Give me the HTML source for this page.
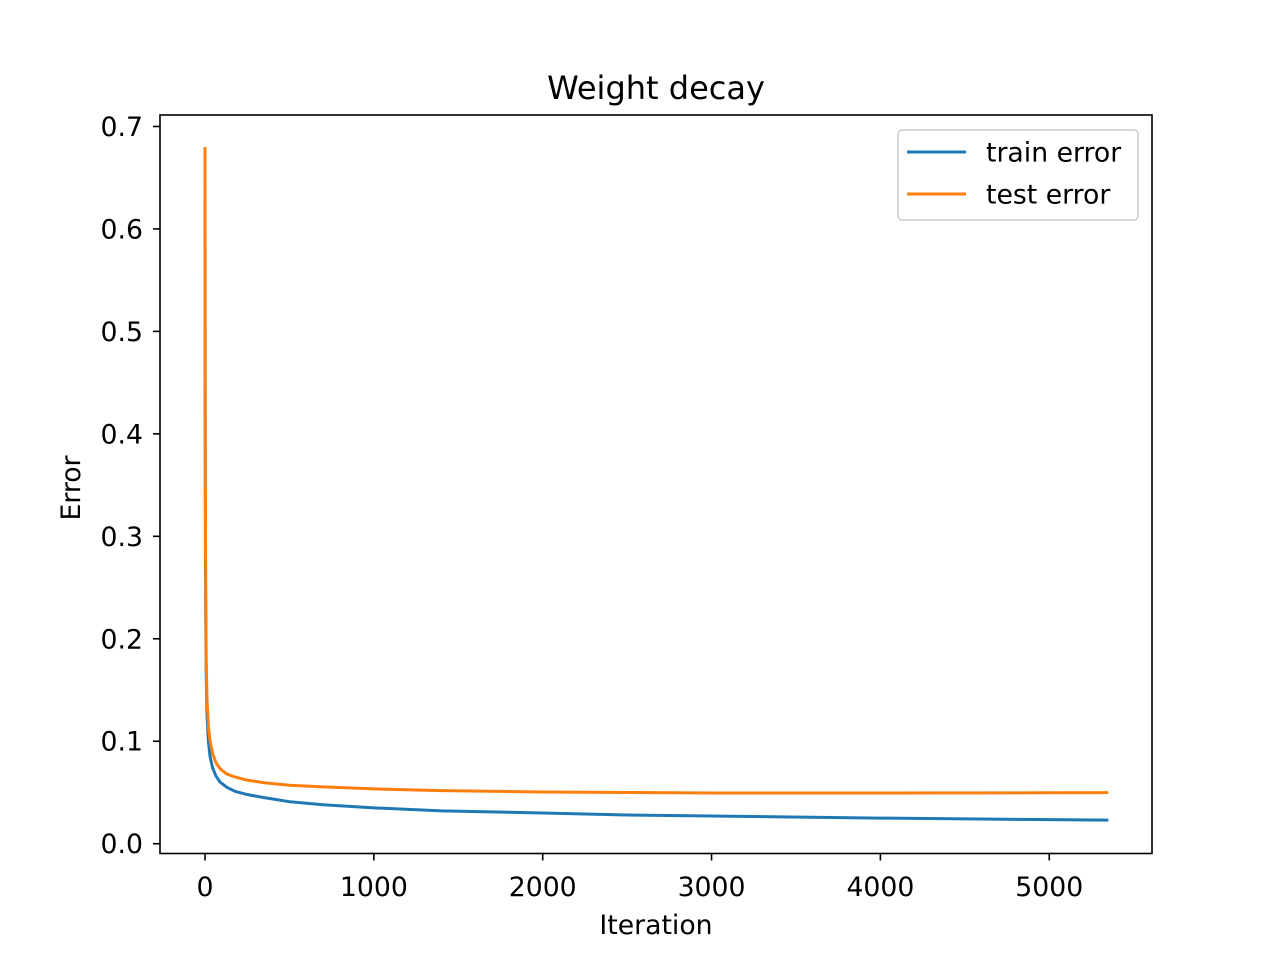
<!DOCTYPE html>
<html><head><meta charset="utf-8"><style>
body{margin:0;background:#fff}
svg text{font-family:"DejaVu Sans","Liberation Sans",sans-serif;fill:#000}
</style></head><body>
<svg id="chart" width="1280" height="960" xmlns="http://www.w3.org/2000/svg">
<rect width="1280" height="960" fill="#fff"/>
<text x="656" y="99" style="font-size:32px" text-anchor="middle">Weight decay</text>
<g id="plot"></g>
<rect x="160" y="115" width="992" height="738.5" fill="none" stroke="#000" stroke-width="1.6"/>
<text x="656" y="934" style="font-size:26.7px" text-anchor="middle">Iteration</text>
<text transform="translate(80,488) rotate(-90)" style="font-size:26.7px" text-anchor="middle">Error</text>
<g>
<rect x="898" y="130" width="240" height="90" rx="4" fill="#fff" stroke="#ccc" stroke-width="1.5"/>
<line x1="907" y1="152" x2="966" y2="152" stroke="#1f77b4" stroke-width="3"/>
<text x="986" y="161.5" style="font-size:26.7px">train error</text>
<line x1="907" y1="194" x2="966" y2="194" stroke="#ff7f0e" stroke-width="3"/>
<text x="986" y="203.5" style="font-size:26.7px">test error</text>
</g>
</svg>
<script>
const iterations=[0,1,2,4,7,12,20,30,45,65,90,130,180,250,350,500,700,1000,1400,2000,2500,3000,4000,5000,5350];
const trainError=[0.68,0.43,0.33,0.23,0.165,0.125,0.10,0.085,0.074,0.066,0.060,0.055,0.051,0.048,0.045,0.041,0.038,0.035,0.032,0.030,0.028,0.027,0.025,0.0235,0.023];
const testError=[0.68,0.45,0.35,0.25,0.18,0.14,0.115,0.10,0.088,0.079,0.073,0.068,0.065,0.062,0.0595,0.057,0.0555,0.0535,0.0518,0.0505,0.050,0.0495,0.0495,0.0497,0.0498];
const xTicks=[0,1000,2000,3000,4000,5000];
const yTicks=[0.0,0.1,0.2,0.3,0.4,0.5,0.6,0.7];
const NS='http://www.w3.org/2000/svg';
const g=document.getElementById('plot');
function xs(v){return 205+v*0.16885;}
function ys(v){return 843.7-v*1024.6;}
function mk(t,a){const e=document.createElementNS(NS,t);for(const k in a)e.setAttribute(k,a[k]);g.appendChild(e);return e;}
xTicks.forEach(v=>{
  const l=mk('line',{x1:xs(v),x2:xs(v),y1:853.5,y2:860.5,stroke:'#000','stroke-width':1.6});
  
  
  const t=mk('text',{x:xs(v),y:896,style:'font-size:26.7px','text-anchor':'middle'});t.textContent=String(v);
  
  
});
yTicks.forEach(v=>{
  const l=mk('line',{x1:153,x2:160,y1:ys(v),y2:ys(v),stroke:'#000','stroke-width':1.6});
  
  
  const t=mk('text',{x:143,y:ys(v)+9.5,style:'font-size:26.7px','text-anchor':'end'});t.textContent=v.toFixed(1);
  
  
});
function line(vals,color,name){
  const d=iterations.map((x,i)=>(i?'L':'M')+xs(x).toFixed(2)+' '+ys(vals[i]).toFixed(2)).join(' ');
  const p=mk('path',{d:d,fill:'none',stroke:color,'stroke-width':3,'stroke-linejoin':'round'});
  
  
}
line(trainError,'#1f77b4','train-error-line');
line(testError,'#ff7f0e','test-error-line');
</script>
</body></html>
